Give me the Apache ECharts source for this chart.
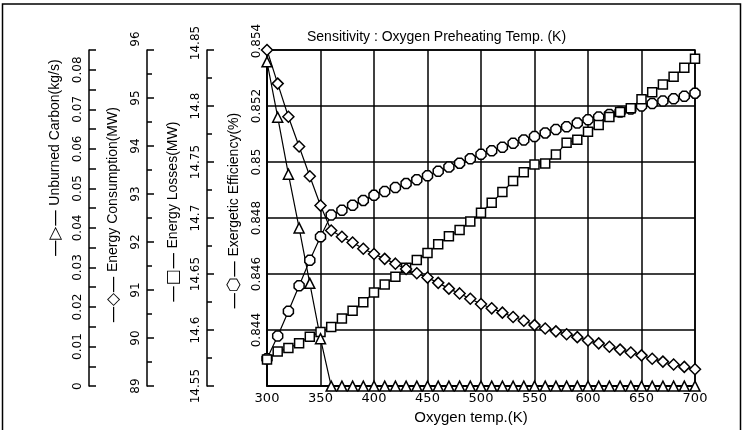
<!DOCTYPE html>
<html>
<head>
<meta charset="utf-8">
<script src="https://cdn.jsdelivr.net/npm/echarts@6/dist/echarts.min.js"></script>
<style>
  html, body { margin: 0; padding: 0; background: #fff; }
  #chart { width: 743px; height: 430px; }
</style>
</head>
<body>
<div id="chart"></div>
<script>
// oxygen preheating temperature (K)
const temps = [300, 310, 320, 330, 340, 350, 360, 370, 380, 390, 400, 410, 420, 430, 440, 450, 460, 470, 480, 490, 500,
    510, 520, 530, 540, 550, 560, 570, 580, 590, 600, 610, 620, 630, 640, 650, 660, 670, 680, 690, 700];

const unburnedCarbon = [0.082, 0.068, 0.0536, 0.040, 0.026, 0.012, 0, 0, 0, 0, 0, 0, 0, 0, 0, 0, 0, 0, 0, 0, 0,
    0, 0, 0, 0, 0, 0, 0, 0, 0, 0, 0, 0, 0, 0, 0, 0, 0, 0, 0, 0];

const energyConsumption = [96.0, 95.30, 94.61, 93.99, 93.37, 92.76, 92.24, 92.11, 91.99, 91.86, 91.75, 91.65, 91.55,
    91.44, 91.35, 91.26, 91.15, 91.03, 90.93, 90.82, 90.71, 90.62, 90.53, 90.44, 90.36, 90.27, 90.20, 90.14, 90.08,
    90.02, 89.95, 89.89, 89.82, 89.76, 89.70, 89.64, 89.57, 89.51, 89.45, 89.40, 89.35];

const energyLosses = [14.5738, 14.5808, 14.5839, 14.5883, 14.5940, 14.5984, 14.6028, 14.6103, 14.6173, 14.6248,
    14.6336, 14.6406, 14.6477, 14.6556, 14.6626, 14.6688, 14.6767, 14.6837, 14.6894, 14.6969, 14.7048, 14.7136,
    14.7233, 14.7330, 14.7409, 14.7479, 14.7488, 14.7567, 14.7673, 14.7699, 14.7770, 14.7831, 14.7902, 14.7946,
    14.7981, 14.8060, 14.8122, 14.8192, 14.8262, 14.8342, 14.8421];

const exergeticEfficiency = [0.84298, 0.84379, 0.84467, 0.84558, 0.84649, 0.84733, 0.84811, 0.84828, 0.84846,
    0.84863, 0.84881, 0.84895, 0.84909, 0.84923, 0.84937, 0.84951, 0.84967, 0.84982, 0.84996, 0.85012, 0.85028,
    0.8504, 0.85053, 0.85067, 0.85079, 0.85091, 0.85104, 0.85116, 0.85126, 0.85139, 0.85151, 0.85161, 0.8517,
    0.85179, 0.85189, 0.852, 0.85209, 0.85218, 0.85226, 0.85235, 0.85246];

const chart = echarts.init(document.getElementById('chart'));

const black = '#000';
const labelFont = 'DejaVu Sans';
const nameFont = 'Liberation Sans';

function pairs(vals) {
    const out = [];
    for (let i = 0; i < temps.length; i++) {
        out.push([temps[i], vals[i]]);
    }
    return out;
}

// axis name with the legend symbol drawn in front of it
function nameStyle(shift) {
    return {
        color: black, fontFamily: nameFont, fontSize: 14,
        padding: [0, 0, 0, shift * 2],
        rich: { s: { fontFamily: 'DejaVu Sans', fontSize: 17, color: black } }
    };
}

// tick labels; the top one is pushed up a little like in the original
function tickLabel(max, lift, margin) {
    return {
        rotate: 90, color: black, fontFamily: labelFont, fontSize: 12, margin: margin,
        formatter: function (v) {
            return Math.abs(v - max) < 1e-9 ? '{m|' + v + '}' : String(v);
        },
        rich: { m: { fontFamily: labelFont, fontSize: 12, color: black, padding: [0, 0, 0, lift * 2] } }
    };
}

// left side axes, all rotated like the original
function sideAxis(opts) {
    return Object.assign({
        type: 'value',
        position: 'left',
        nameLocation: 'middle',
        nameRotate: 90,
        nameTextStyle: nameStyle(0),
        axisLine: { show: true, onZero: false, lineStyle: { color: black, width: 1.5 } },
        axisTick: { show: true, inside: true, length: 7, lineStyle: { color: black, width: 1.5 } },
        minorTick: { show: true, splitNumber: 2, length: 5, lineStyle: { color: black, width: 1.5 } },
        splitLine: { show: false }
    }, opts);
}

const marker = { color: '#fff', borderColor: black, borderWidth: 1.5 };
const line = { color: black, width: 1.2 };

const exLabel = tickLabel(0.854, 9, 4);
exLabel.showMinLabel = false;

const option = {
    backgroundColor: '#fff',
    animation: false,
    title: {
        text: 'Sensitivity : Oxygen Preheating Temp. (K)',
        left: 302,
        top: 25,
        textStyle: { color: black, fontFamily: nameFont, fontSize: 14, fontWeight: 'normal' }
    },
    grid: { left: 267, right: 48, top: 50, bottom: 39, show: true, borderColor: black, borderWidth: 1.5 },
    xAxis: {
        type: 'value',
        min: 300,
        max: 700,
        interval: 50,
        name: 'Oxygen temp.(K)',
        nameLocation: 'middle',
        nameGap: 20,
        nameTextStyle: { color: black, fontFamily: nameFont, fontSize: 15, padding: [0, 20, 0, 0] },
        axisLine: { onZero: false, lineStyle: { color: black, width: 1.5 } },
        axisTick: { show: false },
        axisLabel: { color: black, fontFamily: labelFont, fontSize: 13, margin: 6 },
        splitLine: { show: true, lineStyle: { color: black, width: 1.5 } }
    },
    yAxis: [
        sideAxis({
            min: 0.842, max: 0.854, interval: 0.002,
            name: '{s|—⬡—} Exergetic Efficiency(%)',
            nameGap: 22,
            nameTextStyle: nameStyle(7),
            axisTick: { show: false },
            minorTick: { show: false },
            axisLabel: exLabel,
            splitLine: { show: true, lineStyle: { color: black, width: 1.5 } }
        }),
        sideAxis({
            min: 14.55, max: 14.85, interval: 0.05,
            offset: 60,
            name: '{s|—□—} Energy Losses(MW)',
            nameGap: 24,
            nameTextStyle: nameStyle(6),
            axisLabel: tickLabel(14.85, 7, 5)
        }),
        sideAxis({
            min: 89, max: 96, interval: 1,
            offset: 120,
            name: '{s|—◇—} Energy Consumption(MW)',
            nameGap: 24,
            nameTextStyle: nameStyle(3),
            axisLabel: tickLabel(96, 11, 5)
        }),
        sideAxis({
            min: 0, max: 0.085, interval: 0.005,
            offset: 178,
            name: '{s|—▷—} Unburned Carbon(kg/s)',
            nameGap: 24,
            nameTextStyle: nameStyle(60),
            minorTick: { show: false },
            axisLabel: {
                rotate: 90, color: black, fontFamily: labelFont, fontSize: 12, margin: 5,
                formatter: function (v) {
                    const k = Math.round(v * 1000);
                    return k % 10 === 0 ? String(k / 1000) : '';
                }
            }
        })
    ],
    series: [
        {
            name: 'Exergetic Efficiency(%)',
            type: 'line',
            yAxisIndex: 0,
            data: pairs(exergeticEfficiency),
            symbol: 'path://M3,0 L7,0 L10,3 L10,7 L7,10 L3,10 L0,7 L0,3 Z',
            symbolSize: 10,
            lineStyle: line,
            itemStyle: marker
        },
        {
            name: 'Energy Losses(MW)',
            type: 'line',
            yAxisIndex: 1,
            data: pairs(energyLosses),
            symbol: 'rect',
            symbolSize: 9,
            lineStyle: line,
            itemStyle: marker
        },
        {
            name: 'Energy Consumption(MW)',
            type: 'line',
            yAxisIndex: 2,
            data: pairs(energyConsumption),
            symbol: 'diamond',
            symbolSize: 11,
            lineStyle: line,
            itemStyle: marker
        },
        {
            name: 'Unburned Carbon(kg/s)',
            type: 'line',
            yAxisIndex: 3,
            data: pairs(unburnedCarbon),
            symbol: 'triangle',
            symbolSize: 10,
            lineStyle: line,
            itemStyle: marker
        }
    ],
    graphic: [{
        type: 'rect',
        shape: { x: 2.5, y: 4, width: 738, height: 440 },
        style: { fill: null, stroke: black, lineWidth: 1.5 },
        silent: true
    }]
};

chart.setOption(option);
</script>
</body>
</html>
